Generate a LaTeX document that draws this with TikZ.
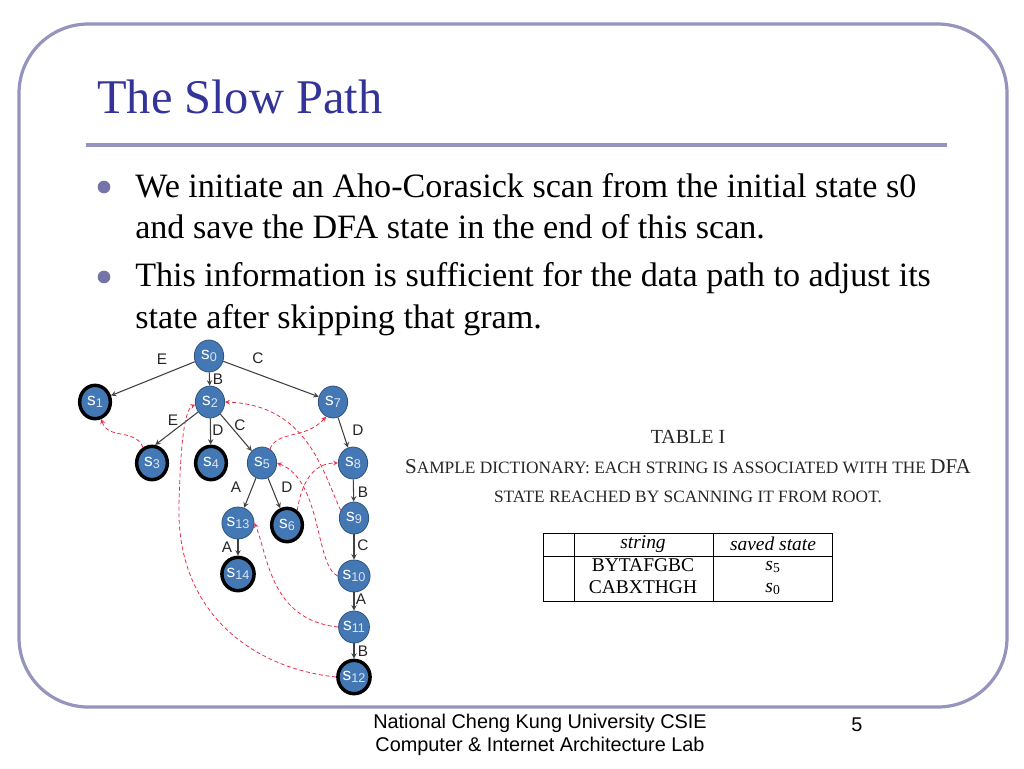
\documentclass[tikz,border=0pt]{standalone}
\usepackage{fontspec}
\usetikzlibrary{shapes.geometric}
\setmainfont{Liberation Serif}
\setsansfont{Liberation Sans}
\definecolor{framecol}{HTML}{9494BE}
\definecolor{titlecol}{HTML}{333399}
\definecolor{bulletcol}{HTML}{7474A8}
\definecolor{statecol}{HTML}{4478B4}
\definecolor{backcol}{HTML}{E8304A}
\newcommand{\statename}[1]{{\fontsize{13}{13}\selectfont s}{\fontsize{9.5}{9.5}\selectfont\raisebox{-2pt}{\color{white!80!statecol}#1}}}
\newcommand{\capS}[1]{{\fontsize{15.8}{15.8}\selectfont #1}}
\begin{document}
\begin{tikzpicture}[x=0.75pt,y=-0.75pt,>=stealth,
state/.style={ellipse,draw=statecol!70!black,fill=statecol,line width=0.6pt,minimum width=22pt,minimum height=24pt,inner sep=0pt,text=white,font=\sffamily},
finalstate/.style={state,draw=black,line width=2.6pt,minimum width=23pt,minimum height=25pt},
edgelabel/.style={inner sep=0pt,font=\sffamily\fontsize{11.5}{11.5}\selectfont,text=black!85},
trans/.style={->,line width=0.8pt,draw=black!75},
backlink/.style={->,densely dashed,line width=0.6pt,draw=backcol},
bodyline/.style={anchor=base west,inner sep=0pt,font=\fontsize{25.6}{25.6}\selectfont},
bulletdot/.style={circle,fill=bulletcol,inner sep=0pt,minimum size=9.5pt},
tablecap/.style={inner sep=0pt,text=black!85,font=\fontsize{13}{13}\selectfont},
tablecell/.style={inner sep=0pt,font=\fontsize{14.6}{14.6}\selectfont},
footline/.style={inner sep=0pt,font=\sffamily\fontsize{14.9}{14.9}\selectfont}]

\useasboundingbox (0,0) rectangle (1024,768);
\draw[framecol,line width=2.4pt,rounded corners=52pt] (19,24) rectangle (1007,707);

\draw (97,97) node[anchor=west,inner sep=0pt,text=titlecol,font=\fontsize{36.3}{36.3}\selectfont] (title) {The Slow Path};
\draw (86,145) coordinate (ruleL);
\draw (947,145) coordinate (ruleR);
\draw[framecol,line width=3pt] (ruleL) -- (ruleR);

\draw (104,187) node[bulletdot] (dotA) {};
\draw (104,277) node[bulletdot] (dotB) {};
\draw (135,197) node[bodyline] (lineA) {We initiate an Aho-Corasick scan from the initial state s0};
\draw (135,238) node[bodyline] (lineB) {and save the DFA state in the end of this scan.};
\draw (135,286) node[bodyline] (lineC) {This information is sufficient for the data path to adjust its};
\draw (135,328) node[bodyline] (lineD) {state after skipping that gram.};

% trie
\draw (209,356) node[state] (s0) {\statename{0}};
\draw (95,402) node[finalstate] (s1) {\statename{1}};
\draw (210,402) node[state] (s2) {\statename{2}};
\draw (333,402) node[state] (s7) {\statename{7}};
\draw (152,463) node[finalstate] (s3) {\statename{3}};
\draw (211,463) node[finalstate] (s4) {\statename{4}};
\draw (262,463) node[state] (s5) {\statename{5}};
\draw (353,463) node[state] (s8) {\statename{8}};
\draw (354,518) node[state] (s9) {\statename{9}};
\draw (238,523) node[state] (s13) {\statename{13}};
\draw (287,525) node[finalstate] (s6) {\statename{6}};
\draw (238,574) node[finalstate] (s14) {\statename{14}};
\draw (354,576) node[state] (s10) {\statename{10}};
\draw (354,627) node[state] (s11) {\statename{11}};
\draw (354,677) node[finalstate] (s12) {\statename{12}};

\draw[trans] (s0) -- (s1);
\draw[trans] (s0) -- (s2);
\draw[trans] (s0) -- (s7);
\draw[trans] (s2.-140) -- (s3.80);
\draw[trans] (s2) -- (s4);
\draw[trans] (s2) -- (s5);
\draw[trans] (s5) -- (s13);
\draw[trans] (s5) -- (s6);
\draw[trans] (s13) -- (s14);
\draw[trans] (s7) -- (s8);
\draw[trans] (s8) -- (s9);
\draw[trans] (s9) -- (s10);
\draw[trans] (s10) -- (s11);
\draw[trans] (s11) -- (s12);

\draw (162,359) node[edgelabel] (lE0) {E};
\draw (258,358) node[edgelabel] (lC0) {C};
\draw (218,379) node[edgelabel] (lB0) {B};
\draw (173,420) node[edgelabel] (lE2) {E};
\draw (218,430) node[edgelabel] (lD2) {D};
\draw (240,425) node[edgelabel] (lC2) {C};
\draw (358,430) node[edgelabel] (lD7) {D};
\draw (236,487) node[edgelabel] (lA5) {A};
\draw (287,487) node[edgelabel] (lD5) {D};
\draw (363,492) node[edgelabel] (lB8) {B};
\draw (227,547) node[edgelabel] (lA13) {A};
\draw (363,545) node[edgelabel] (lC9) {C};
\draw (361,599) node[edgelabel] (lA10) {A};
\draw (363,651) node[edgelabel] (lB11) {B};

% failure links
\draw[backlink] (s3.120) .. controls (135,428) and (108,440) .. (s1.-70);
\draw[backlink] (s5.60) .. controls (277,430) and (305,440) .. (s7.-115);
\draw[backlink] (s9.150) .. controls (322,470) and (307,405) .. (s2.0);
\draw[backlink] (s6.55) .. controls (301,485) and (312,463) .. (s8.180);
\draw[backlink] (s10.180) .. controls (315,565) and (322,480) .. (s5.0);
\draw[backlink] (s11.180) .. controls (270,620) and (268,555) .. (s13.0);
\draw[backlink] (s12.180) .. controls (250,668) and (176,610) .. (179,505) .. controls (180,460) and (183,410) .. (s2.190);

% table
\draw (688,437) node[tablecap,font=\fontsize{15}{15}\selectfont] (capA) {TABLE I};
\draw (688,467) node[tablecap] (capB) {\capS{S}AMPLE DICTIONARY: EACH STRING IS ASSOCIATED WITH THE \capS{DFA}};
\draw (688,497) node[tablecap] (capC) {STATE REACHED BY SCANNING IT FROM ROOT.};

\draw (543,533) coordinate (tabNW);
\draw (832,601) coordinate (tabSE);
\draw (574,533) coordinate (colAt);
\draw (574,601) coordinate (colAb);
\draw (713,533) coordinate (colBt);
\draw (713,601) coordinate (colBb);
\draw (543,556) coordinate (rowL);
\draw (832,556) coordinate (rowR);
\draw[line width=0.75pt] (tabNW) rectangle (tabSE);
\draw[line width=0.75pt] (colAt) -- (colAb);
\draw[line width=0.75pt] (colBt) -- (colBb);
\draw[line width=0.75pt] (rowL) -- (rowR);
\draw (643,544) node[tablecell] (hString) {\itshape string};
\draw (773,544) node[tablecell] (hSaved) {\itshape saved state};
\draw (643,565) node[tablecell] (strA) {BYTAFGBC};
\draw (643,587) node[tablecell] (strB) {CABXTHGH};
\draw (773,567) node[tablecell] (savA) {\textit{s}\textsubscript{5}};
\draw (773,589) node[tablecell] (savB) {\textit{s}\textsubscript{0}};

% footer
\draw (540,723) node[footline] (footA) {National Cheng Kung University CSIE};
\draw (540,746) node[footline] (footB) {Computer \& Internet Architecture Lab};
\draw (857,725) node[footline] (pageno) {5};

\end{tikzpicture}
\end{document}
